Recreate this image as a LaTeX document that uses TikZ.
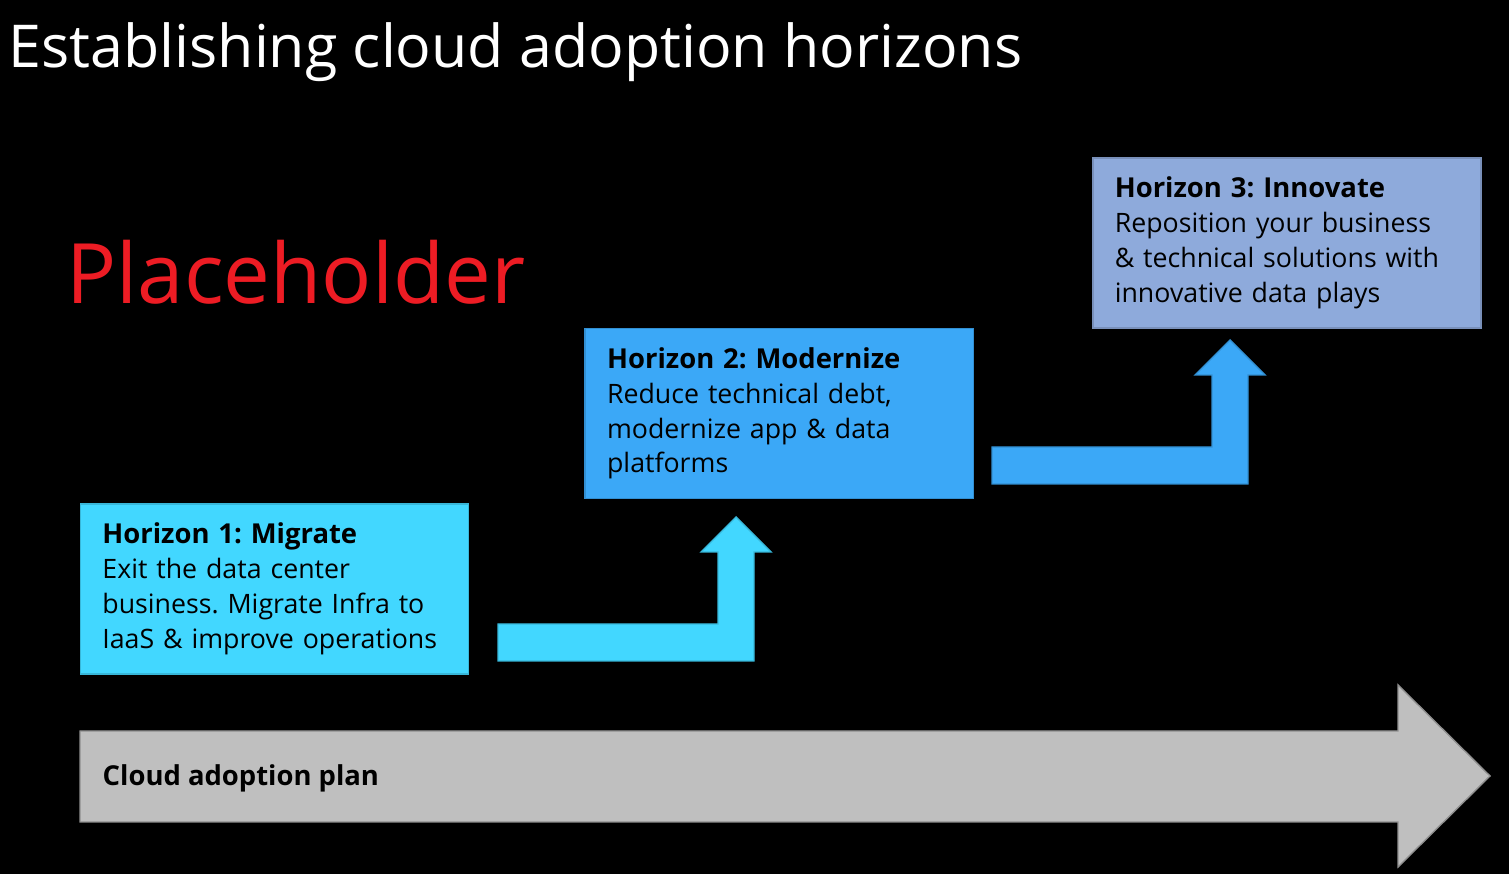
\documentclass[tikz,border=0pt]{standalone}
\usepackage{fontspec}
\setmainfont{Open Sans}
\usetikzlibrary{positioning}
\frenchspacing
\definecolor{hone}{RGB}{66,215,255}
\definecolor{htwo}{RGB}{59,168,247}
\definecolor{hthree}{RGB}{142,170,219}
\definecolor{plangray}{RGB}{191,191,191}
\definecolor{phred}{RGB}{237,28,36}
\tikzset{
  horizon/.style={rectangle,fill=#1,draw=#1!85!black,line width=.4pt,
    minimum width=3.88cm,minimum height=1.70cm,text width=3.44cm,
    inner xsep=.22cm,align=left,font=\fontsize{7.6}{9.9}\selectfont,
    execute at begin node=\hyphenpenalty10000},
  pics/steparrow/.style={code={
    \fill[#1,draw=#1!85!black,line width=.4pt] (0,0)--(0,-37)--(220,-37)--(220,-109)
      --(203,-109)--(238,-144)--(273,-109)--(256,-109)--(256,0)--cycle;
  }},
}
\tikzstyle{label}=[inner sep=0,anchor=base west]
\newcommand{\hhead}[1]{{\fontsize{7.8}{9.9}\selectfont\bfseries #1}}
\begin{document}
\begin{tikzpicture}[x=.01cm,y=-.01cm]
    \fill[black] (0,0) rectangle (1509,874);
    \useasboundingbox (0,0) rectangle (1509,874);
    \node[label,text=white,font=\fontsize{16.8}{20}\selectfont] (title) at (8,68)
      {Establishing cloud adoption horizons};
    \node[label,text=phred,font=\fontsize{23.7}{28}\selectfont] (placeholder) at (66,304)
      {Placeholder};
    \fill[plangray,draw=plangray!75!black,line width=.4pt] (80,731)--(1398,731)--(1398,685)
      --(1490,776)--(1398,867)--(1398,822)--(80,822)--cycle;
    \node[label,font=\fontsize{7.8}{9}\selectfont\bfseries] (plan) at (102,786)
      {Cloud adoption plan};
    \node[horizon=hone] (h1) at (274.5,589)
      {\hhead{Horizon 1: Migrate}\\Exit the data center\\business. Migrate Infra to\\IaaS \& improve operations};
    \node[horizon=htwo,above right=.04cm and 1.15cm of h1] (h2)
      {\hhead{Horizon 2: Modernize}\\Reduce technical debt,\\modernize app \& data\\platforms};
    \node[horizon=hthree,above right=-.01cm and 1.18cm of h2] (h3)
      {\hhead{Horizon 3: Innovate}\\Reposition your business\\\& technical solutions with\\innovative data plays};
    \pic at (498,661) {steparrow=hone};
    \pic at (992,484) {steparrow=htwo};
  \end{tikzpicture}
\end{document}
